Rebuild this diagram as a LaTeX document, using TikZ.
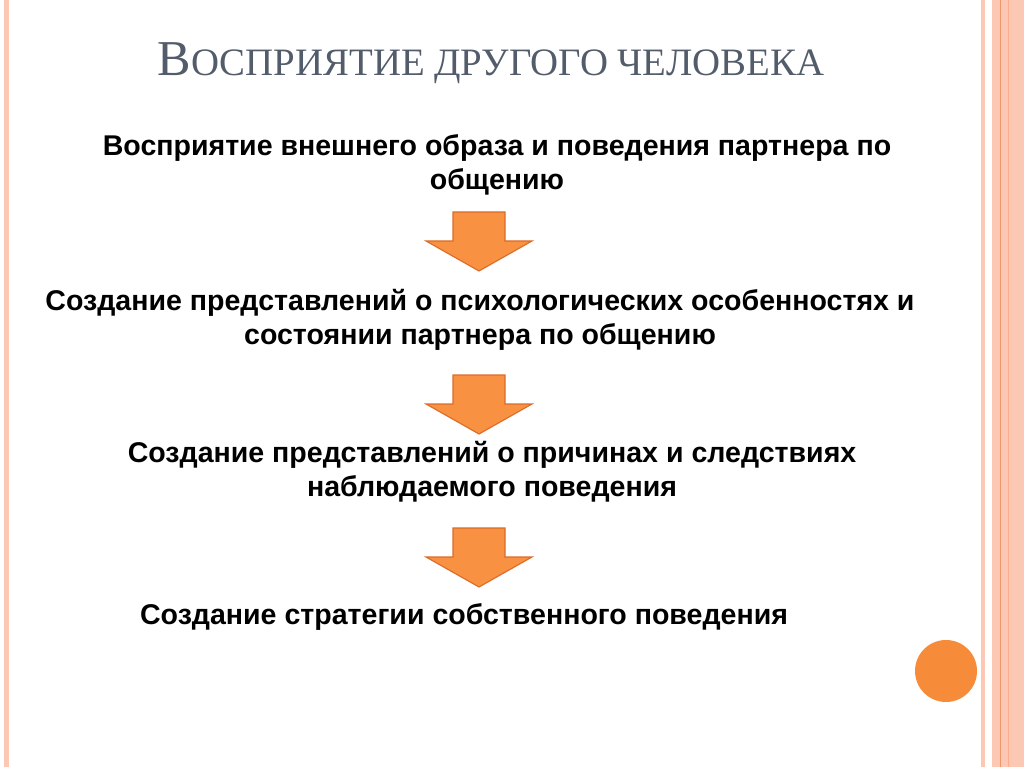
\documentclass[tikz,border=0pt]{standalone}
\usepackage{fontspec}
\setmainfont{Liberation Sans}
\newfontfamily\titlefont{Liberation Serif}
\usetikzlibrary{positioning}
\definecolor{stripe}{RGB}{252,200,180}
\definecolor{stripeline}{RGB}{238,150,110}
\definecolor{arrowfill}{RGB}{248,145,65}
\definecolor{arrowdraw}{RGB}{220,108,40}
\definecolor{titlegray}{RGB}{82,92,106}
\definecolor{dotorange}{RGB}{246,139,58}

\begin{document}
\begin{tikzpicture}[x=0.025cm, y=-0.025cm,
        steptext/.style={
                font=\fontsize{20.3}{24.2}\selectfont\bfseries,
                align=center,
                inner sep=0pt,
        },
        blockarrow/.style={
                fill=arrowfill,
                draw=arrowdraw,
                line width=0.8pt,
        }]
            \useasboundingbox (0,0) rectangle (1024,767);
            % side stripes
            \fill[stripe] (4,0) rectangle (9,767);
            \fill[stripe] (981,0) rectangle (985,767);
            \fill[stripe] (992,0) rectangle (1024,767);
            \draw[stripeline, line width=0.6pt] (1000,0) -- (1000,767);
            \draw[stripe!150!white, line width=0.4pt] (1008,0) -- (1008,767);
            % title
            \node[anchor=base, text=titlegray, font=\titlefont, inner sep=0pt] (title) at (491,76)
                {\fontsize{35.7}{36}\selectfont В\fontsize{27.6}{36}\selectfont ОСПРИЯТИЕ ДРУГОГО ЧЕЛОВЕКА};
            % steps
            \node[steptext] (outer) at (497,165) {Восприятие внешнего образа и поведения партнера по\\общению};
            \node[steptext] (ideas) at (480,320) {Создание представлений о психологических особенностях и\\состоянии партнера по общению};
            \node[steptext] (causes) at (492,472) {Создание представлений о причинах и следствиях\\наблюдаемого поведения};
            \node[steptext] (strategy) at (464,617) {Создание стратегии собственного поведения};
            % arrows
            \coordinate (arr1) at (479,212);
            \coordinate (arr2) at (479,375);
            \coordinate (arr3) at (479,528);
            \foreach \a in {arr1,arr2,arr3}
                \draw[blockarrow] (\a) ++(-26,0) -- ++(52,0) -- ++(0,29) -- ++(27,0) -- ++(-53,30) -- ++(-53,-30) -- ++(27,0) -- cycle;
            % dot
            \node[circle, fill=dotorange, minimum size=1.55cm, inner sep=0pt] (dot) at (946,671) {};
        \end{tikzpicture}
\end{document}
